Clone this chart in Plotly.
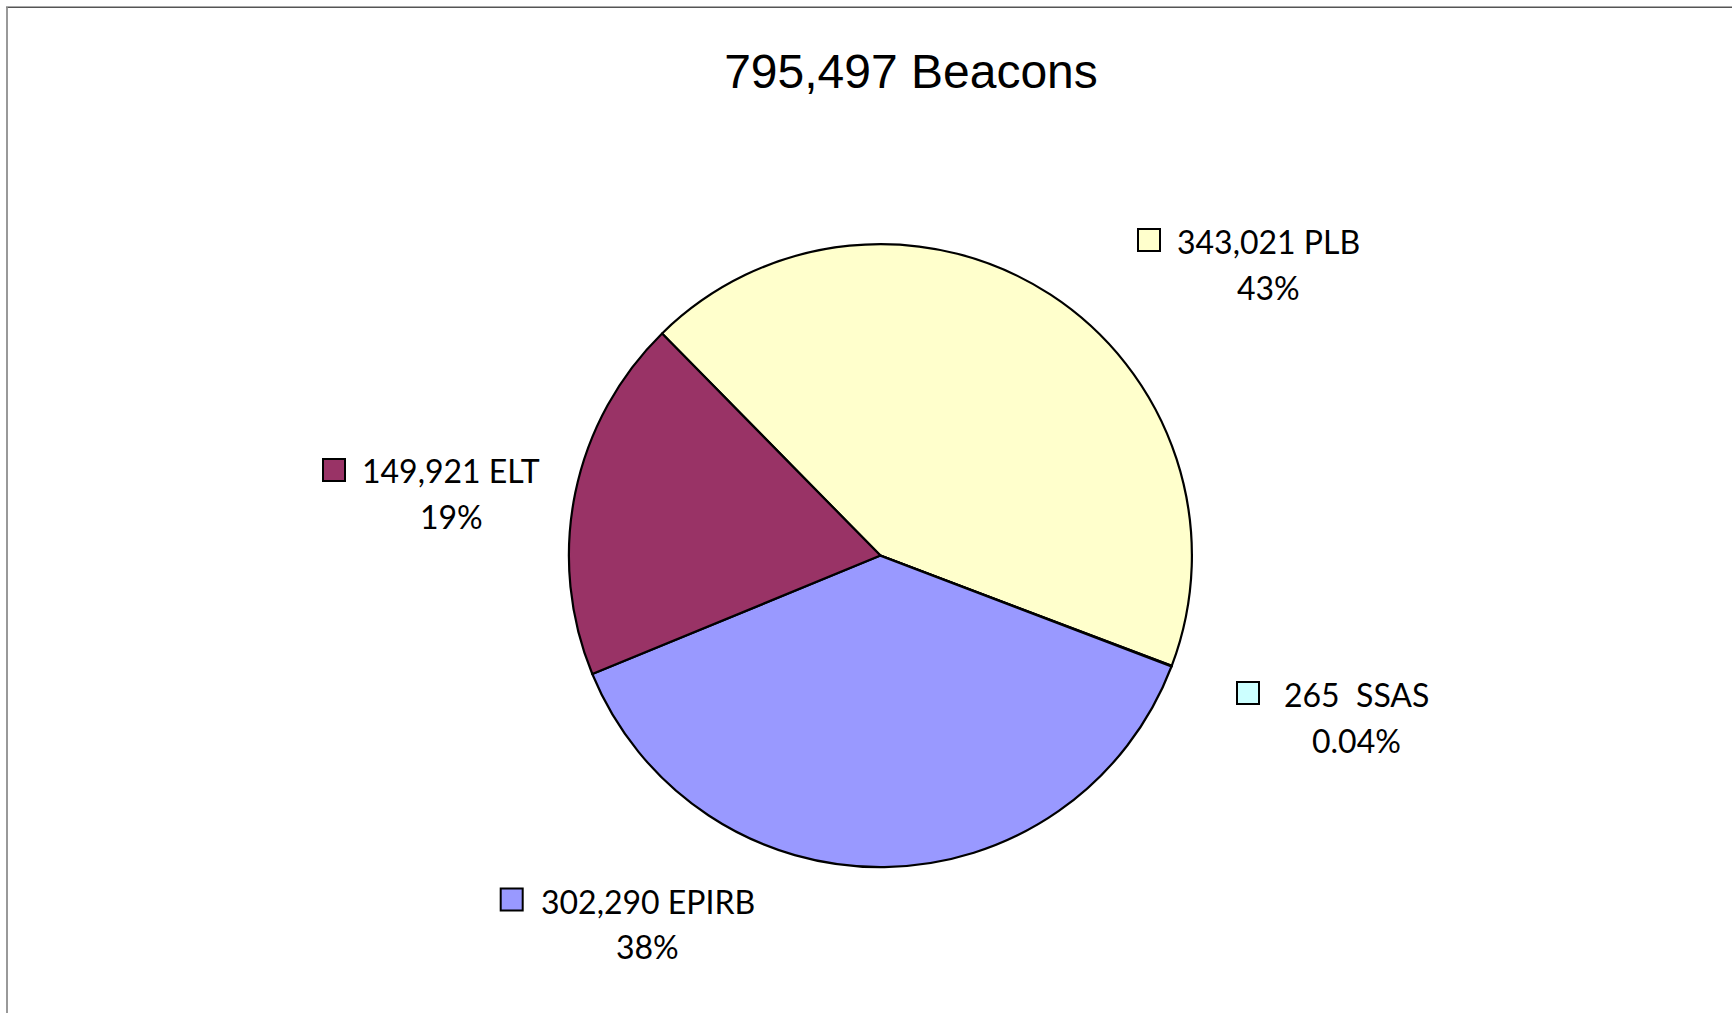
import plotly.graph_objects as go

W, H = 1732, 1013

# Data (clockwise order starting at upper-left boundary)
categories = ["PLB", "SSAS", "EPIRB", "ELT"]
values = [343021, 265, 302290, 149921]
count_labels = ["343,021 PLB", "265  SSAS", "302,290 EPIRB", "149,921 ELT"]
pct_labels = ["43%", "0.04%", "38%", "19%"]
colors = ["#FFFFCC", "#CCFFFF", "#9999FF", "#993366"]
title_text = "795,497 Beacons"

# label layout (pixel positions): text centre x, line1 y, line2 y, square centre x, square centre y
label_pos = {
    "PLB": (1268, 241, 287.5, 1149, 240),
    "SSAS": (1356, 694, 740, 1248, 693),
    "EPIRB": (647.5, 901, 946.5, 511.7, 899.5),
    "ELT": (451, 471, 516, 334, 470),
}

def px(x):
    return x / W

def py(y):
    return 1 - y / H

cx, cy, r = 880.4, 555.6, 311.5

fig = go.Figure(go.Pie(
    labels=categories,
    values=values,
    sort=False,
    direction="clockwise",
    rotation=-44.5,
    marker=dict(colors=colors, line=dict(color="black", width=2.2)),
    textinfo="none",
    hoverinfo="label+value+percent",
    domain=dict(x=[px(cx - r), px(cx + r)], y=[py(cy + r), py(cy - r)]),
))

annotations = []
shapes = []
lab_font = dict(family="Lato", size=32, color="black")
for cat, l1, l2, col in zip(categories, count_labels, pct_labels, colors):
    tx, y1, y2, sx, sy = label_pos[cat]
    annotations.append(dict(x=px(tx), y=py(y1), xref="paper", yref="paper", text=l1,
                            showarrow=False, xanchor="center", yanchor="middle", font=lab_font))
    annotations.append(dict(x=px(tx), y=py(y2), xref="paper", yref="paper", text=l2,
                            showarrow=False, xanchor="center", yanchor="middle", font=lab_font))
    s = 11
    shapes.append(dict(type="rect", xref="paper", yref="paper",
                       x0=px(sx - s), x1=px(sx + s), y0=py(sy + s), y1=py(sy - s),
                       fillcolor=col, line=dict(color="black", width=2)))

# frame lines (top and left)
shapes.append(dict(type="line", xref="paper", yref="paper", x0=px(6), x1=1, y0=py(7.3), y1=py(7.3),
                   line=dict(color="#555555", width=1.5)))
shapes.append(dict(type="line", xref="paper", yref="paper", x0=px(7), x1=px(7), y0=0, y1=py(7.3),
                   line=dict(color="#999999", width=2)))

fig.update_layout(
    width=W, height=H,
    margin=dict(l=0, r=0, t=0, b=0),
    paper_bgcolor="white",
    plot_bgcolor="white",
    showlegend=False,
    title=dict(text=title_text, x=911 / W, y=py(71), xanchor="center", yanchor="middle",
               font=dict(family="Liberation Sans", size=48, color="black")),
    annotations=annotations,
    shapes=shapes,
)

fig.write_html("out.html", config={"displayModeBar": False},
               post_script="document.body.style.margin='0';document.body.style.overflow='hidden';")
